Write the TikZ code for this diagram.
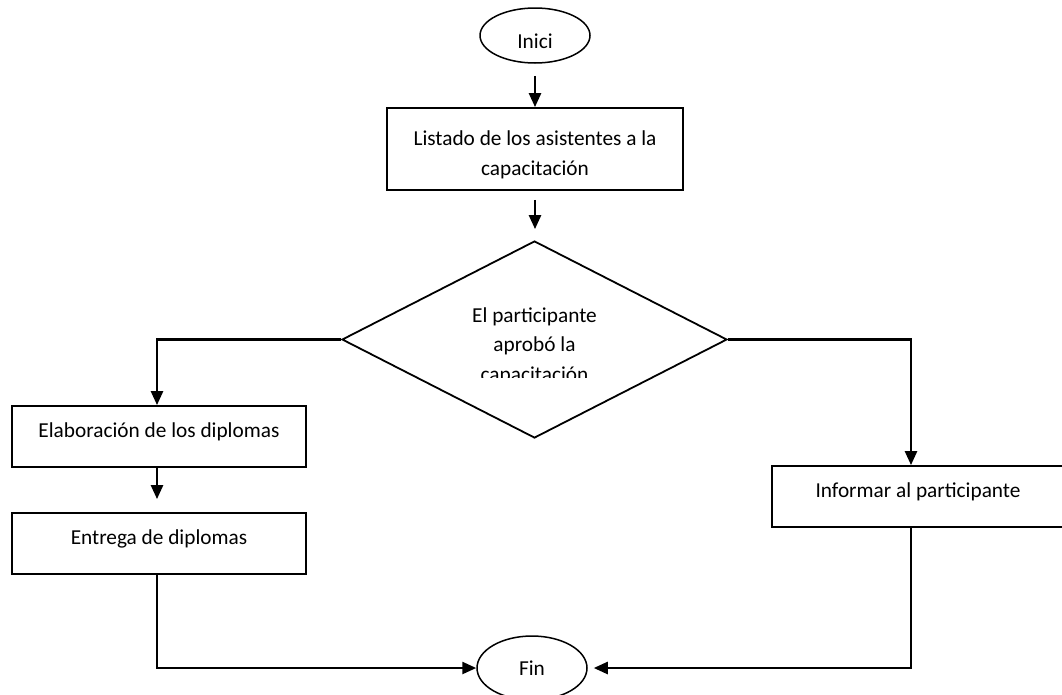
\documentclass[tikz,border=0pt]{standalone}
\usepackage{fontspec}
\setmainfont{Carlito}
\usetikzlibrary{shapes.geometric,arrows.meta}

\begin{document}
\begin{tikzpicture}[x=1pt,y=-1pt,>={Triangle[width=12pt,length=14pt]},
		every node/.style={font=\fontsize{21.3}{29.5}\selectfont},
		caja/.style={draw,rectangle,line width=1.8pt,minimum height=61pt,inner sep=0pt,text depth=12pt},
		terminal/.style={draw,ellipse,line width=1.5pt,inner sep=0pt,minimum width=110pt},
		flecha/.style={->,line width=2.5pt}]
		\useasboundingbox (0,0) rectangle (1062,694);
		\node[terminal,minimum height=55pt,text height=26pt] (inici) at (535,35.5) {Inici};
		\node[caja,minimum width=296pt,minimum height=82pt,text depth=,align=center] (listado) at (535,149) {\rule{0pt}{26pt}Listado de los asistentes a la\\capacitación};
		\node[draw,diamond,line width=1.8pt,minimum width=385pt,minimum height=197pt,inner sep=0pt] (decision) at (534.5,339.5) {};
		\begin{scope}
			\clip (342,290) rectangle (727,377);
			\node[align=center] (pregunta) at (534.5,346) {El participante\\aprobó la\\capacitación};
		\end{scope}
		\node[caja,minimum width=294pt] (elab) at (159,436.5) {Elaboración de los diplomas};
		\node[caja,minimum width=294pt] (entrega) at (159,543.5) {Entrega de diplomas};
		\node[caja,minimum width=292pt] (informar) at (918,496.5) {Informar al participante};
		\node[terminal,minimum height=64pt] (fin) at (532,668) {Fin};
		\draw[flecha,shorten <=12pt] (inici) -- (listado);
		\draw[flecha,shorten <=9pt,shorten >=11pt] (listado.south) -- (listado.south |- decision.north);
		\draw[flecha] (decision.west) -| ([xshift=-2pt]elab.north);
		\draw[flecha,shorten >=13pt] ([xshift=-2pt]elab.south) -- ([xshift=-2pt]entrega.north);
		\draw[flecha] ([xshift=-2pt]entrega.south) |- (fin.west);
		\draw[flecha] (decision.east) -| ([xshift=-7pt]informar.north);
		\draw[flecha,shorten >=6pt] ([xshift=-7pt]informar.south) |- (fin.east);
\end{tikzpicture}
\end{document}
